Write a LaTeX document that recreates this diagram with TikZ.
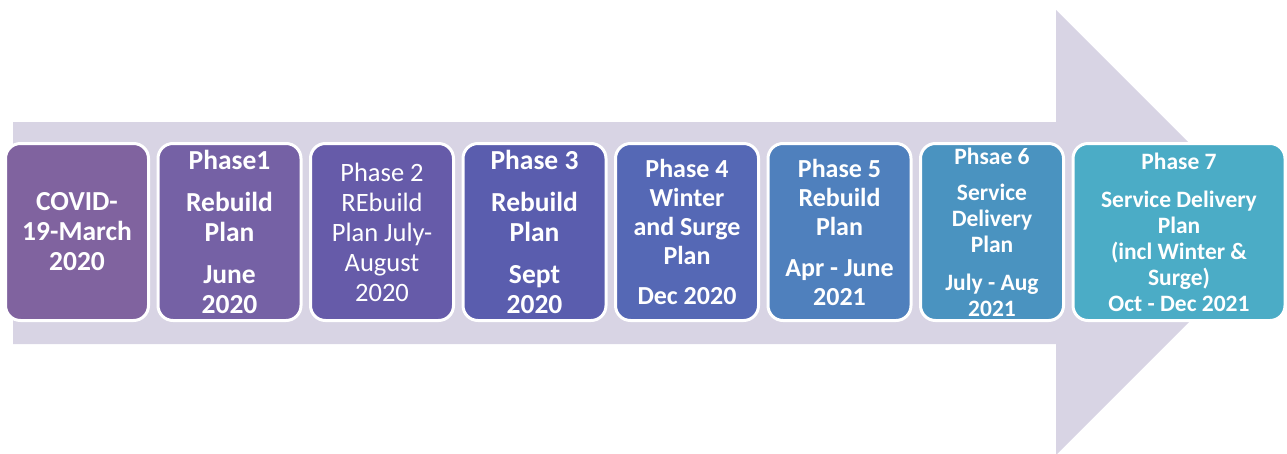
\documentclass[tikz,border=0pt]{standalone}
\usepackage{fontspec}
\setmainfont{Carlito}
\usetikzlibrary{positioning}

\definecolor{arrowbg}{RGB}{216,212,228}
\definecolor{phA}{RGB}{128,99,159}
\definecolor{phB}{RGB}{117,97,165}
\definecolor{phC}{RGB}{102,91,169}
\definecolor{phD}{RGB}{90,93,174}
\definecolor{phE}{RGB}{85,104,181}
\definecolor{phF}{RGB}{79,128,189}
\definecolor{phG}{RGB}{74,147,192}
\definecolor{phH}{RGB}{75,172,198}

\tikzset{
  phasebox/.style={rounded corners=15pt, fill=#1, draw=white, line width=3pt,
    minimum width=143pt, minimum height=177pt, inner sep=0pt,
    text=white, align=center},
  bigtxt/.style={font=\fontsize{27.5}{30}\selectfont\bfseries},
  midtxt/.style={font=\fontsize{26}{29}\selectfont\bfseries},
  smalltxt/.style={font=\fontsize{23.5}{26}\selectfont\bfseries},
}

\begin{document}
\begin{tikzpicture}[x=1pt,y=-1pt,node distance=6.5pt]
	\useasboundingbox (0,0) rectangle (1287,453);
	% big arrow behind the phases
	\fill[arrowbg] (13,122) -- (1056,122) -- (1056,10) -- (1278.5,232.5)
		-- (1056,455) -- (1056,344) -- (13,344) -- cycle;
	% phases
	\node[phasebox=phA, bigtxt] (cvd) at (77,232) {COVID-\\19-March\\2020};
	\node[phasebox=phB, bigtxt, right=of cvd] (ph1)
		{Phase1\\[12pt]Rebuild\\Plan\\[12pt]June\\2020};
	\node[phasebox=phC, font=\fontsize{26.5}{30}\selectfont, right=of ph1] (ph2)
		{Phase 2\\REbuild\\Plan July-\\August\\2020};
	\node[phasebox=phD, bigtxt, right=of ph2] (ph3)
		{Phase 3\\[12pt]Rebuild\\Plan\\[12pt]Sept\\2020};
	\node[phasebox=phE, midtxt, right=of ph3] (ph4)
		{Phase 4\\Winter\\and Surge\\Plan\\[11pt]Dec 2020};
	\node[phasebox=phF, midtxt, right=of ph4] (ph5)
		{Phase 5\\Rebuild\\Plan\\[12pt]Apr - June\\2021};
	\node[phasebox=phG, smalltxt, right=of ph5] (ph6)
		{Phsae 6\\[10pt]Service\\Delivery\\Plan\\[12pt]July - Aug\\2021};
	\node[phasebox=phH, smalltxt, minimum width=212pt, right=of ph6] (ph7)
		{Phase 7\\[12pt]Service Delivery\\Plan\\(incl Winter \&\\Surge)\\Oct - Dec 2021};
\end{tikzpicture}
\end{document}
